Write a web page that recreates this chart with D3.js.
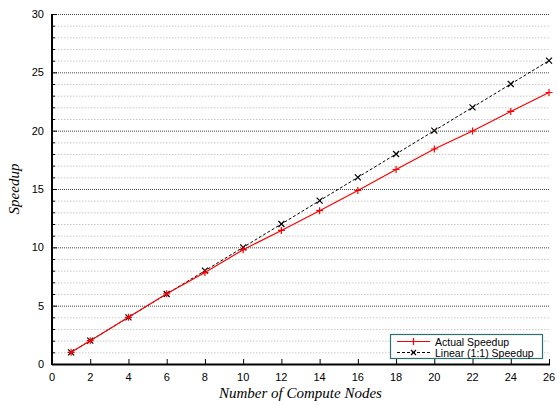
<!DOCTYPE html>
<html>
<head>
<meta charset="utf-8">
<script src="https://cdn.jsdelivr.net/npm/d3@7"></script>
<style>
  body { margin: 0; background: #fff; }
  text { font-family: "Liberation Sans", Arial, sans-serif; }
  text.titre { font-family: "Liberation Serif", "Times New Roman", serif; font-style: italic; }
</style>
</head>
<body>
<svg id="chart" width="557" height="405"></svg>
<script>
"use strict";

// donnees
var nodes = [1, 2, 4, 6, 8, 10, 12, 14, 16, 18, 20, 22, 24, 26];
var actualSpeedup = [1, 2, 4, 6.02, 7.84, 9.8, 11.45, 13.14, 14.87, 16.67, 18.43, 19.97, 21.65, 23.27];
var linearSpeedup = [1, 2, 4, 6, 8, 10, 12, 14, 16, 18, 20, 22, 24, 26];
var xTicks = [0, 2, 4, 6, 8, 10, 12, 14, 16, 18, 20, 22, 24, 26];
var yTicks = [0, 5, 10, 15, 20, 25, 30];
var seriesNames = ["Actual Speedup", "Linear (1:1) Speedup"];

var svg = d3.select("#chart");
var pLeft = 52, pRight = 549, pTop = 14, pBottom = 364;

var x = d3.scaleLinear().domain([0, 26]).range([pLeft, pRight]);
var y = d3.scaleLinear().domain([0, 30]).range([pBottom, pTop]);

// grille horizontale
var grid = svg.append("g");
grid.selectAll("line")
  .data(d3.range(1, 31))
  .enter()
  .append("line")
  .attr("x1", pLeft)
  .attr("x2", pRight)
  .attr("y1", function(d) { return y(d) + 0.5; })
  .attr("y2", function(d) { return y(d) + 0.5; })
  .attr("stroke", function(d) { return d % 5 == 0 ? "#444" : "#c8c8c8"; })
  .attr("stroke-width", 1)
  .attr("stroke-dasharray", function(d) { return d % 5 == 0 ? "1,1" : "1.5,1.5"; });

// axe y
var yAxis = svg.append("g").attr("transform", "translate(" + pLeft + ",0)");
yAxis.selectAll("line.minor")
  .data(d3.range(0, 31))
  .enter()
  .append("line")
  .attr("x1", 0)
  .attr("x2", function(d) { return d % 5 == 0 ? 5 : 3; })
  .attr("y1", function(d) { return y(d) + 0.5; })
  .attr("y2", function(d) { return y(d) + 0.5; })
  .attr("stroke", "#000");
yAxis.selectAll("text")
  .data(yTicks)
  .enter()
  .append("text")
  .attr("x", -8)
  .attr("y", function(d) { return y(d) + 4; })
  .attr("text-anchor", "end")
  .attr("font-size", 11)
  .text(function(d) { return d; });

// axe x
var xAxis = svg.append("g").attr("transform", "translate(0," + pBottom + ")");
xAxis.selectAll("line")
  .data(xTicks)
  .enter()
  .append("line")
  .attr("x1", function(d) { return x(d) + 0.5; })
  .attr("x2", function(d) { return x(d) + 0.5; })
  .attr("y1", 0)
  .attr("y2", -5)
  .attr("stroke", "#000");
xAxis.selectAll("text")
  .data(xTicks)
  .enter()
  .append("text")
  .attr("x", function(d) { return x(d); })
  .attr("y", 17)
  .attr("text-anchor", "middle")
  .attr("font-size", 11)
  .text(function(d) { return d; });

svg.append("line")
  .attr("x1", pLeft).attr("x2", pLeft)
  .attr("y1", pTop).attr("y2", pBottom + 1)
  .attr("stroke", "#000").attr("stroke-width", 2);
svg.append("line")
  .attr("x1", pLeft).attr("x2", pRight + 1)
  .attr("y1", pBottom + 0.5).attr("y2", pBottom + 0.5)
  .attr("stroke", "#000").attr("stroke-width", 2);

// titres des axes
svg.append("text")
  .attr("class", "titre")
  .attr("x", (pLeft + pRight) / 2)
  .attr("y", 398)
  .attr("text-anchor", "middle")
  .attr("font-size", 15)
  .text("Number of Compute Nodes");
svg.append("text")
  .attr("class", "titre")
  .attr("transform", "translate(19," + ((pTop + pBottom) / 2) + ") rotate(-90)")
  .attr("text-anchor", "middle")
  .attr("font-size", 15)
  .text("Speedup");

// series
var line = d3.line()
  .x(function(d) { return x(d[0]); })
  .y(function(d) { return y(d[1]); });

var actual = nodes.map(function(n, i) { return [n, actualSpeedup[i]]; });
var linear = nodes.map(function(n, i) { return [n, linearSpeedup[i]]; });

function plus(g, cx, cy, s, c) {
  g.append("path")
    .attr("d", "M" + (cx - s) + "," + cy + "H" + (cx + s) + "M" + cx + "," + (cy - s) + "V" + (cy + s))
    .attr("stroke", c).attr("stroke-width", 1.2).attr("fill", "none");
}
function cross(g, cx, cy, s, c) {
  g.append("path")
    .attr("d", "M" + (cx - s) + "," + (cy - s) + "L" + (cx + s) + "," + (cy + s) +
               "M" + (cx - s) + "," + (cy + s) + "L" + (cx + s) + "," + (cy - s))
    .attr("stroke", c).attr("stroke-width", 1.2).attr("fill", "none");
}

svg.append("path")
  .datum(linear)
  .attr("d", line)
  .attr("fill", "none")
  .attr("stroke", "#000")
  .attr("stroke-width", 1)
  .attr("stroke-dasharray", "3,2");
var gl = svg.append("g");
linear.forEach(function(d) { cross(gl, x(d[0]), y(d[1]), 3, "#000"); });

svg.append("path")
  .datum(actual)
  .attr("d", line)
  .attr("fill", "none")
  .attr("stroke", "#ff0000")
  .attr("stroke-width", 1.2);
var ga = svg.append("g");
actual.forEach(function(d) { plus(ga, x(d[0]), y(d[1]), 3.5, "#ff0000"); });

// legende
var legend = svg.append("g").attr("class", "legend");
legend.append("rect")
  .attr("x", 390.5).attr("y", 334.5)
  .attr("width", 152).attr("height", 24)
  .attr("fill", "#fff")
  .attr("stroke", "#2f6f6f")
  .attr("stroke-width", 1.2);
legend.append("line")
  .attr("x1", 397).attr("x2", 430).attr("y1", 341.5).attr("y2", 341.5)
  .attr("stroke", "#ff0000").attr("stroke-width", 1.2);
plus(legend, 413.5, 341.5, 3.5, "#ff0000");
legend.append("line")
  .attr("x1", 397).attr("x2", 430).attr("y1", 352.5).attr("y2", 352.5)
  .attr("stroke", "#000").attr("stroke-width", 1).attr("stroke-dasharray", "3,2");
cross(legend, 413.5, 352.5, 2.5, "#000");
legend.selectAll("text")
  .data(seriesNames)
  .enter()
  .append("text")
  .attr("x", 435)
  .attr("y", function(d, i) { return 345.5 + 11 * i; })
  .attr("font-size", 10.5)
  .text(function(d) { return d; });
</script>
</body>
</html>
